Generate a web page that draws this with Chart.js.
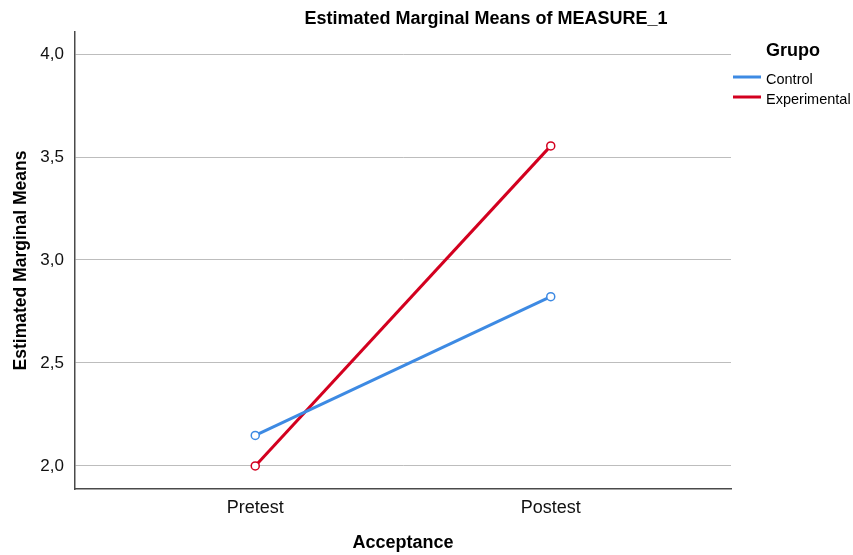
<!DOCTYPE html>
<html>
<head>
<meta charset="utf-8">
<script src="https://cdn.jsdelivr.net/npm/chart.js@4/dist/chart.umd.min.js"></script>
<style>
  html, body { margin: 0; padding: 0; background: #fff; }
  #wrap { width: 853px; height: 555px; }
</style>
</head>
<body>
<div id="wrap"><canvas id="chart" width="853" height="555"></canvas></div>
<script>
'use strict';

var categories = ['Pretest', 'Postest'];
var control = [2.148, 2.822];
var experimental = [2.00, 3.554];
var yTicks = [2.0, 2.5, 3.0, 3.5, 4.0];

var FONT = '"Liberation Sans", Arial, sans-serif';

function toPoints(values) {
  return values.map(function (v, i) { return { x: i, y: v }; });
}

// title and legend are drawn here so they sit where SPSS puts them
var extras = {
  id: 'extras',
  afterDraw: function (chart) {
    var ctx = chart.ctx;
    ctx.save();
    ctx.fillStyle = '#000';
    ctx.textBaseline = 'alphabetic';

    ctx.font = 'bold 18px ' + FONT;
    ctx.textAlign = 'center';
    ctx.fillText('Estimated Marginal Means of MEASURE_1', 486, 24);

    ctx.textAlign = 'left';
    ctx.fillText('Grupo', 766, 56);

    ctx.font = '14.5px ' + FONT;
    chart.data.datasets.forEach(function (ds, i) {
      var y = 77 + i * 20;
      ctx.strokeStyle = ds.borderColor;
      ctx.lineWidth = 3;
      ctx.beginPath();
      ctx.moveTo(733, y);
      ctx.lineTo(761, y);
      ctx.stroke();
      ctx.fillText(ds.label, 766, y + 7);
    });
    ctx.restore();
  }
};

new Chart(document.getElementById('chart'), {
  type: 'line',
  data: {
    datasets: [{
      label: 'Control',
      data: toPoints(control),
      borderColor: '#3d8ae3',
      backgroundColor: '#ffffff',
      pointBackgroundColor: '#ffffff',
      pointBorderColor: '#3d8ae3',
      borderWidth: 3,
      pointRadius: 4,
      pointBorderWidth: 1.5
    }, {
      label: 'Experimental',
      data: toPoints(experimental),
      borderColor: '#d3001f',
      backgroundColor: '#ffffff',
      pointBackgroundColor: '#ffffff',
      pointBorderColor: '#d3001f',
      borderWidth: 3,
      pointRadius: 4,
      pointBorderWidth: 1.5
    }]
  },
  options: {
    responsive: false,
    animation: false,
    layout: { padding: { top: 32, right: 122, left: 0, bottom: 0 } },
    plugins: {
      legend: { display: false },
      title: { display: false },
      tooltip: { enabled: false }
    },
    scales: {
      x: {
        type: 'linear',
        min: -0.61,
        max: 1.61,
        afterBuildTicks: function (scale) {
          scale.ticks = categories.map(function (c, i) { return { value: i }; });
        },
        afterFit: function (scale) { scale.height = 66; },
        grid: { display: false, drawTicks: false },
        border: { display: true, color: '#4a4a4a', width: 1.5 },
        ticks: {
          padding: 8,
          color: '#111',
          font: { family: FONT, size: 18 },
          callback: function (v) { return categories[v]; }
        },
        title: {
          display: true,
          text: 'Acceptance',
          color: '#000',
          padding: { top: 1, bottom: 1 },
          font: { family: FONT, size: 18, weight: 'bold' }
        }
      },
      y: {
        min: 1.888,
        max: 4.107,
        afterBuildTicks: function (scale) {
          scale.ticks = yTicks.map(function (v) { return { value: v }; });
        },
        afterFit: function (scale) { scale.width = 75; },
        grid: { color: '#bdbdbd', lineWidth: 1, drawTicks: false },
        border: { display: true, color: '#4a4a4a', width: 1.5 },
        ticks: {
          padding: 11,
          color: '#111',
          font: { family: FONT, size: 17 },
          callback: function (v) { return v.toFixed(1).replace('.', ','); }
        },
        title: {
          display: true,
          text: 'Estimated Marginal Means',
          color: '#000',
          padding: { top: 11, bottom: 11 },
          font: { family: FONT, size: 17.5, weight: 'bold' }
        }
      }
    }
  },
  plugins: [extras]
});
</script>
</body>
</html>
